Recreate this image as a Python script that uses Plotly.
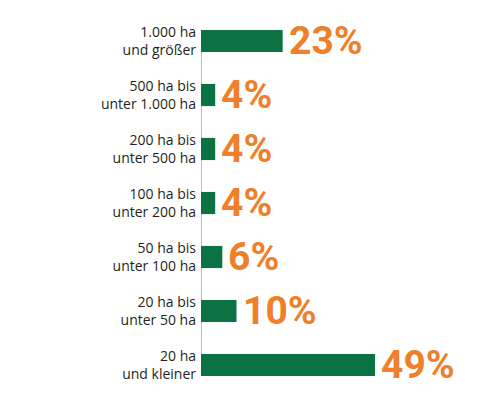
import plotly.graph_objects as go

categories = [
    "1.000 ha<br>und größer",
    "500 ha bis<br>unter 1.000 ha",
    "200 ha bis<br>unter 500 ha",
    "100 ha bis<br>unter 200 ha",
    "50 ha bis<br>unter 100 ha",
    "20 ha bis<br>unter 50 ha",
    "20 ha<br>und kleiner",
]
values = [23, 4, 4, 4, 6, 10, 49]
value_labels = [f"{v}%" for v in values]

GREEN = "#0b7343"
ORANGE = "#ef7f2a"

fig = go.Figure()
fig.add_trace(go.Bar(
    x=values, y=categories, orientation="h",
    marker=dict(color=GREEN, line=dict(width=0)),
    width=0.41, hoverinfo="skip",
))

annotations = []
for c, v, t in zip(categories, values, value_labels):
    annotations.append(dict(
        x=v, y=c, xref="x", yref="y", text=t, showarrow=False,
        xanchor="left", yanchor="middle", xshift=4, yshift=0,
        font=dict(family="Roboto, sans-serif",
                  size=39, color=ORANGE, weight="bold"),
    ))

# the page body has an 8px margin, so the figure starts at (8, 8)
fig.update_layout(
    width=471, height=390,
    margin=dict(l=193, r=0, t=5.5, b=6, pad=0, autoexpand=False),
    paper_bgcolor="white", plot_bgcolor="white",
    showlegend=False,
    annotations=annotations,
    xaxis=dict(range=[0, 78.3], visible=False, fixedrange=True, automargin=False),
    yaxis=dict(
        range=[6.5, -0.5], type="category", automargin=False,
        showgrid=False, zeroline=False, showline=False,
        ticks="", ticklabelstandoff=4,
        tickfont=dict(family="Open Sans, sans-serif", size=14, color="#231f20"),
    ),
    shapes=[dict(
        type="line", xref="x", yref="y", x0=0, x1=0, y0=-0.205, y1=6.205,
        line=dict(color="#7f7f7f", width=1), layer="below",
    )],
)

fig.write_html("out.html")
